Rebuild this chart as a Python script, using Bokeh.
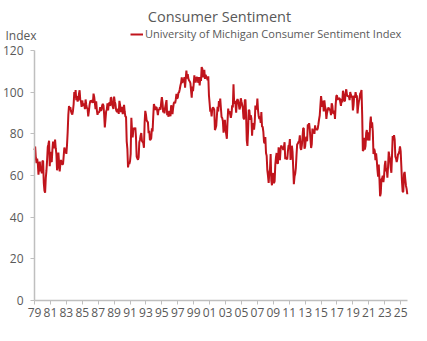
from bokeh.plotting import figure
from bokeh.models import Range1d, FixedTicker, Legend, LegendItem, Label, ColumnDataSource
from bokeh.embed import file_html
from bokeh.resources import INLINE

start_year = 1979
# Monthly index values, Jan 1979 onward
v1979 = [72.1, 73.9, 68.4, 66.0, 68.1, 65.8, 60.4, 64.5, 66.7, 62.1, 63.3, 61.0]
v1980 = [67.0, 66.9, 56.5, 52.7, 51.7, 58.7, 62.3, 67.3, 73.7, 75.0, 76.7, 64.5]
v1981 = [71.4, 66.9, 66.5, 72.4, 76.3, 73.1, 74.1, 77.2, 73.1, 70.3, 62.5, 64.3]
v1982 = [71.0, 66.5, 62.0, 65.5, 67.5, 65.7, 65.4, 65.4, 69.3, 73.4, 72.1, 71.9]
v1983 = [70.4, 74.6, 80.8, 89.1, 93.3, 92.2, 92.8, 90.9, 89.9, 89.3, 91.1, 94.2]
v1984 = [100.1, 97.4, 101.0, 96.1, 98.1, 95.5, 96.6, 99.1, 100.9, 96.3, 95.7, 92.9]
v1985 = [96.0, 93.7, 93.7, 94.6, 91.8, 96.5, 94.0, 92.4, 92.1, 88.4, 90.9, 93.9]
v1986 = [95.6, 95.9, 95.1, 96.2, 94.8, 99.3, 97.7, 94.9, 91.9, 95.6, 91.4, 89.1]
v1987 = [90.4, 90.2, 90.8, 92.8, 91.1, 91.5, 93.7, 94.4, 93.6, 89.3, 83.1, 86.8]
v1988 = [90.8, 91.6, 94.6, 91.2, 94.8, 94.7, 93.4, 97.4, 97.3, 94.1, 93.0, 91.9]
v1989 = [97.9, 95.4, 94.3, 91.5, 90.7, 90.6, 92.0, 89.6, 95.8, 93.9, 90.9, 90.5]
v1990 = [93.0, 89.5, 91.3, 93.9, 90.6, 88.3, 88.2, 76.4, 72.8, 63.9, 66.0, 65.5]
v1991 = [66.8, 70.4, 87.7, 81.8, 78.3, 82.1, 82.9, 82.0, 83.0, 78.3, 69.1, 68.2]
v1992 = [67.5, 68.8, 76.0, 77.2, 79.2, 80.4, 76.6, 76.1, 75.6, 73.3, 85.3, 91.0]
v1993 = [89.3, 86.6, 85.9, 85.6, 80.3, 81.5, 77.0, 77.3, 77.9, 82.7, 81.2, 88.2]
v1994 = [94.3, 93.2, 91.5, 92.6, 92.8, 91.2, 89.0, 91.7, 91.5, 92.7, 91.6, 95.1]
v1995 = [97.6, 95.1, 90.3, 92.5, 89.8, 92.7, 94.4, 96.2, 88.9, 90.2, 88.2, 91.0]
v1996 = [89.3, 88.5, 93.7, 92.7, 89.4, 92.4, 94.7, 95.3, 94.7, 96.5, 99.2, 96.9]
v1997 = [97.4, 99.7, 100.0, 101.4, 103.2, 104.5, 107.1, 104.4, 106.0, 105.6, 107.2, 102.1]
v1998 = [106.6, 110.4, 106.5, 108.7, 106.5, 105.6, 105.2, 104.4, 100.9, 97.4, 102.7, 100.5]
v1999 = [103.9, 108.1, 105.7, 104.6, 106.8, 107.3, 106.0, 104.5, 107.2, 103.2, 107.2, 105.4]
v2000 = [112.0, 111.3, 107.1, 109.2, 110.7, 106.4, 108.3, 107.3, 106.8, 105.8, 107.6, 98.4]
v2001 = [94.7, 90.6, 91.5, 88.4, 92.0, 92.6, 92.4, 91.5, 81.8, 82.7, 83.9, 88.8]
v2002 = [93.0, 90.7, 95.7, 93.0, 96.9, 92.4, 88.1, 87.6, 86.1, 80.6, 84.2, 86.7]
v2003 = [82.4, 79.9, 77.6, 86.0, 92.1, 89.7, 90.9, 89.3, 87.7, 89.6, 93.7, 92.6]
v2004 = [103.8, 94.4, 95.8, 94.2, 90.2, 95.6, 96.7, 95.9, 94.2, 91.7, 92.8, 97.1]
v2005 = [95.5, 94.1, 92.6, 87.7, 86.9, 96.0, 96.5, 89.1, 76.9, 74.2, 81.6, 91.5]
v2006 = [91.2, 86.7, 88.9, 87.4, 79.1, 84.9, 84.7, 82.0, 85.4, 93.6, 92.1, 91.7]
v2007 = [96.9, 91.3, 88.4, 87.1, 88.3, 85.3, 90.4, 83.4, 83.4, 80.9, 76.1, 75.5]
v2008 = [78.4, 70.8, 69.5, 62.6, 59.8, 56.4, 61.2, 63.0, 70.3, 57.6, 55.3, 60.1]
v2009 = [61.2, 56.3, 57.3, 65.1, 68.7, 70.8, 66.0, 65.7, 73.5, 70.6, 67.4, 72.5]
v2010 = [74.4, 73.6, 73.6, 72.2, 73.6, 76.0, 67.8, 68.9, 68.2, 67.7, 71.6, 74.5]
v2011 = [74.2, 77.5, 67.5, 69.8, 74.3, 71.5, 63.7, 55.8, 59.5, 60.8, 63.7, 69.9]
v2012 = [75.0, 75.3, 76.2, 76.4, 79.3, 73.2, 72.3, 74.3, 78.3, 82.6, 82.7, 72.9]
v2013 = [73.8, 77.6, 78.6, 76.4, 84.5, 84.1, 85.1, 82.1, 77.5, 73.2, 75.1, 82.5]
v2014 = [81.2, 81.6, 80.0, 84.1, 81.9, 82.5, 81.8, 82.5, 84.6, 86.9, 88.8, 93.6]
v2015 = [98.1, 95.4, 93.0, 95.9, 90.7, 96.1, 93.1, 91.9, 87.2, 90.0, 91.3, 92.6]
v2016 = [92.0, 91.7, 91.0, 89.0, 94.7, 93.5, 90.0, 89.8, 91.2, 87.2, 93.8, 98.2]
v2017 = [98.5, 96.3, 96.9, 97.0, 97.1, 95.1, 93.4, 96.8, 95.1, 100.7, 98.5, 95.9]
v2018 = [95.7, 99.7, 101.4, 98.8, 98.0, 98.2, 97.9, 96.2, 100.1, 98.6, 97.5, 98.3]
v2019 = [91.2, 93.8, 98.4, 97.2, 100.0, 98.2, 98.4, 89.8, 93.2, 95.5, 96.8, 99.3]
v2020 = [99.8, 101.0, 89.1, 71.8, 72.3, 78.1, 72.5, 74.1, 80.4, 81.8, 76.9, 80.7]
v2021 = [79.0, 76.8, 84.9, 88.3, 82.9, 85.5, 81.2, 70.3, 72.8, 71.7, 67.4, 70.6]
v2022 = [67.2, 62.8, 59.4, 65.2, 58.4, 50.0, 51.5, 58.2, 58.6, 59.9, 56.8, 59.7]
v2023 = [64.9, 67.0, 62.0, 63.5, 59.0, 64.2, 71.5, 69.4, 67.9, 63.8, 61.3, 69.7]
v2024 = [79.0, 76.9, 79.4, 77.2, 69.1, 68.2, 66.4, 67.9, 70.1, 70.5, 71.8, 74.0]
v2025 = [71.7, 64.7, 57.0, 52.2, 52.2, 60.7, 61.7, 58.2, 55.1, 53.6, 51.0]

years_data = [v1979, v1980, v1981, v1982, v1983, v1984, v1985, v1986, v1987, v1988,
              v1989, v1990, v1991, v1992, v1993, v1994, v1995, v1996, v1997, v1998,
              v1999, v2000, v2001, v2002, v2003, v2004, v2005, v2006, v2007, v2008,
              v2009, v2010, v2011, v2012, v2013, v2014, v2015, v2016, v2017, v2018,
              v2019, v2020, v2021, v2022, v2023, v2024, v2025]

x_ticks = list(range(1979, 2026, 2))
x_tick_labels = {t: f"{t % 100:02d}" for t in x_ticks}
y_ticks = [0, 20, 40, 60, 80, 100, 120]

xs, ys = [], []
for i, vals in enumerate(years_data):
    for m, v in enumerate(vals):
        xs.append(start_year + i + m / 12.0)
        ys.append(v)

src = ColumnDataSource(dict(x=xs, y=ys))

GRAY = "#595959"
AXIS = "#bfbfbf"
RED = "#c0141c"
FONT = "Open Sans"

W, H = 427, 341
AX_LEFT_PX, AX_BOTTOM_PX, AX_TOP_PX = 34, 300, 50
PX_PER_YEAR = 7.96
PX_PER_UNIT = (AX_BOTTOM_PX - AX_TOP_PX) / 120.0

def dx(px):
    return 1979 + (px - AX_LEFT_PX) / PX_PER_YEAR

def dy(py):
    return (AX_BOTTOM_PX - py) / PX_PER_UNIT

x_end_axis = dx(407)

p = figure(width=W, height=H, output_backend="svg", toolbar_location=None,
           x_range=Range1d(dx(0), dx(W)), y_range=Range1d(dy(H), dy(0)),
           min_border=0, min_border_left=0, min_border_right=0,
           min_border_top=0, min_border_bottom=0)
p.outline_line_color = None
p.grid.grid_line_color = None
p.background_fill_color = "white"
p.border_fill_color = "white"

r = p.line("x", "y", source=src, line_color=RED, line_width=2)

for ax in (p.xaxis[0], p.yaxis[0]):
    ax.axis_line_color = AXIS
    ax.axis_line_width = 1.5
    ax.major_tick_line_color = AXIS
    ax.minor_tick_line_color = None
    ax.major_tick_in = 0
    ax.major_tick_out = 4
    ax.major_label_text_color = GRAY
    ax.major_label_text_font = FONT
    ax.major_label_text_font_size = "12px"

p.xaxis.fixed_location = 0
p.xaxis.bounds = (1979, x_end_axis)
p.xaxis.ticker = FixedTicker(ticks=x_ticks)
p.xaxis.major_label_overrides = x_tick_labels
p.xaxis.major_label_standoff = 3

p.yaxis.fixed_location = 1979
p.yaxis.bounds = (0, 120)
p.yaxis.ticker = FixedTicker(ticks=y_ticks)
p.yaxis.major_label_standoff = 7

p.add_layout(Label(x=dx(219), y=dy(16), text="Consumer Sentiment", text_align="center",
                   text_baseline="middle", text_font=FONT, text_font_size="14.5px",
                   text_color=GRAY))
p.add_layout(Label(x=dx(5), y=dy(35), text="Index", text_align="left",
                   text_baseline="middle", text_font=FONT, text_font_size="12px",
                   text_color=GRAY))

legend = Legend(items=[LegendItem(label="University of Michigan Consumer Sentiment Index",
                                  renderers=[r])],
                location=(130, H - 41), orientation="horizontal",
                glyph_width=13, glyph_height=14, label_standoff=2, padding=0, margin=0,
                border_line_color=None, background_fill_alpha=0,
                label_text_font=FONT, label_text_font_size="11px", label_text_color=GRAY,
                label_height=14)
p.add_layout(legend, "center")

open("out.html", "w").write(file_html(p, INLINE))
